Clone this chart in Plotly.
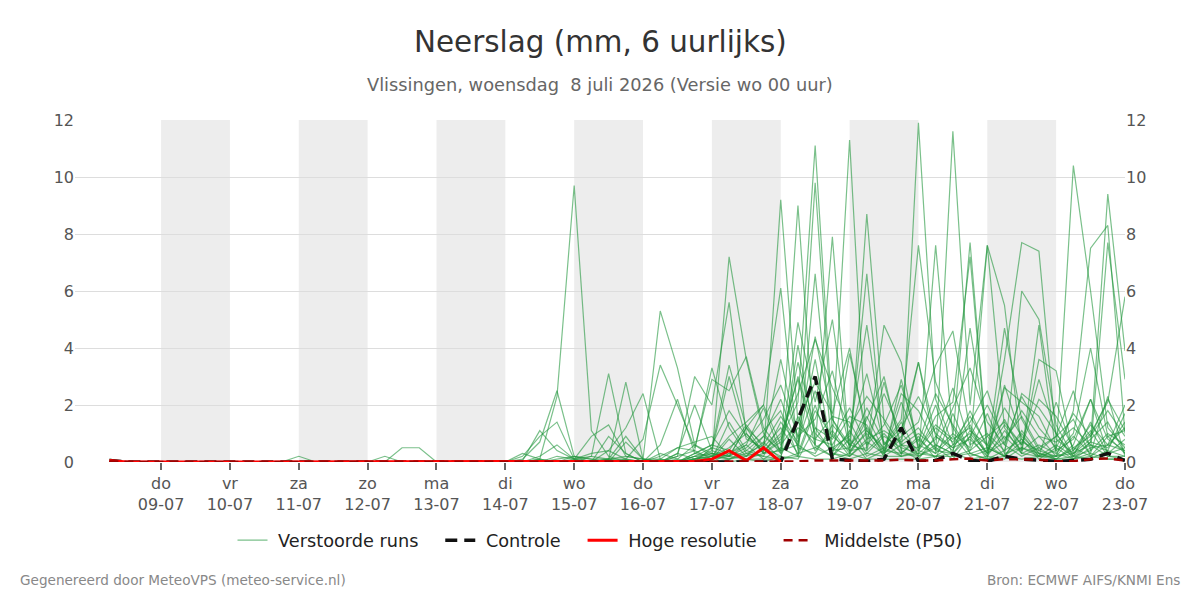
import pandas as pd
import plotly.graph_objects as go

# ---- time axis (6-hourly, from 08-07 06:00 to 23-07 00:00) ----
times = pd.date_range("2026-07-08 06:00", periods=60, freq="6h")

tick_dates = ["2026-07-09", "2026-07-10", "2026-07-11", "2026-07-12", "2026-07-13",
              "2026-07-14", "2026-07-15", "2026-07-16", "2026-07-17", "2026-07-18",
              "2026-07-19", "2026-07-20", "2026-07-21", "2026-07-22", "2026-07-23"]
tick_days = ["do", "vr", "za", "zo", "ma", "di", "wo", "do", "vr", "za", "zo", "ma", "di", "wo", "do"]
tick_dm = ["09-07", "10-07", "11-07", "12-07", "13-07", "14-07", "15-07", "16-07",
           "17-07", "18-07", "19-07", "20-07", "21-07", "22-07", "23-07"]

shade_starts = ["2026-07-09", "2026-07-11", "2026-07-13", "2026-07-15", "2026-07-17", "2026-07-19", "2026-07-21"]

# ---- ensemble members (mm per 6 h) ----
m01 = [0.1, 0, 0, 0, 0, 0, 0, 0, 0, 0, 0, 0, 0, 0, 0, 0, 0, 0, 0, 0, 0, 0, 0,
       0, 0.3, 0.1, 2.3, 9.7, 1.1, 0.2, 0, 0, 0, 0.3, 0.1, 0.4, 0.2, 1.2, 0.3,
       0.8, 2.1, 11.1, 1.5, 0.6, 1.2, 0.3, 0.8, 3.5, 0.9, 0.4, 1.8, 0.5, 0.2, 1.1, 0.3,
       0.1, 0.6, 2.2, 0.8, 0.4]
m02 = [0, 0, 0, 0, 0, 0, 0, 0, 0, 0, 0, 0.2, 0, 0, 0, 0, 0, 0, 0, 0, 0, 0, 0,
       0, 0.1, 0.7, 2.5, 0.2, 0, 0.1, 2.8, 0.1, 0, 0.2, 3.0, 2.0, 5.6, 1.0, 0.3,
       9.2, 1.4, 0.6, 7.9, 0.3, 1.1, 0.5, 0.2, 11.9, 2.2, 0.6, 1.0, 0.3, 2.7, 0.8, 0.2,
       0.4, 10.4, 6.0, 1.2, 0.5]
m03 = [0, 0, 0, 0, 0, 0, 0, 0, 0, 0, 0, 0, 0, 0, 0, 0, 0.2, 0, 0, 0, 0, 0, 0,
       0, 0.05, 1.1, 0.4, 0.1, 0.2, 3.1, 0.3, 0, 0.6, 2.2, 0.3, 0.2, 7.2, 3.6, 1.0,
       0.3, 9.0, 0.5, 0.9, 11.3, 0.4, 2.8, 0.6, 0.2, 7.6, 0.9, 7.7, 0.4, 1.3, 0.6, 2.9,
       1.0, 0.2, 0.7, 9.4, 3.9]
m04 = [0, 0, 0, 0, 0, 0, 0, 0, 0, 0, 0, 0, 0, 0, 0, 0, 0, 0.5, 0.5, 0, 0, 0, 0,
       0, 0.2, 0.9, 1.4, 0.1, 0, 0.4, 1.2, 2.4, 0.1, 0, 0.2, 0.5, 3.4, 1.2, 2.0,
       6.1, 0.4, 9.8, 1.0, 0.2, 8.7, 1.4, 0.3, 0.8, 0.3, 11.6, 2.0, 7.6, 5.5, 0.4, 0.9,
       0.2, 1.8, 7.5, 8.3, 1.0]
m05 = [0, 0, 0, 0, 0, 0, 0, 0, 0, 0, 0, 0, 0, 0, 0, 0, 0, 0, 0, 0, 0, 0.05, 0,
       0, 0, 0.2, 0.6, 0.1, 0.9, 1.3, 0.2, 0.1, 5.3, 3.3, 0.6, 0.3, 0.2, 0.5, 1.1,
       1.8, 0.2, 6.6, 0.4, 1.0, 4.8, 0.6, 1.5, 7.6, 2.8, 1.2, 0.3, 0.1, 3.6, 7.7, 7.4,
       0.8, 0.3, 1.0, 2.1, 5.8]
m06 = [0, 0, 0, 0, 0, 0, 0, 0, 0, 0, 0, 0, 0, 0, 0, 0, 0, 0, 0, 0, 0, 0, 0,
       0, 0, 0, 0.2, 0.1, 0.3, 0.4, 0.1, 0.8, 3.4, 2.0, 0.5, 2.9, 2.5, 3.7, 1.2,
       0.4, 4.9, 2.1, 5.0, 0.6, 6.6, 0.3, 0.9, 1.4, 3.4, 4.6, 1.1, 0.6, 0.2, 6.0, 5.0,
       1.3, 0.2, 0.4, 7.7, 2.9]
m07 = [0, 0, 0, 0, 0, 0, 0, 0, 0, 0, 0, 0, 0, 0, 0, 0, 0, 0, 0, 0, 0, 0, 0,
       0, 0, 0.1, 0, 0.1, 0, 0.9, 0.3, 0, 0.2, 0.5, 0.4, 3.3, 1.2, 0.3, 0.6,
       3.6, 0.8, 4.4, 1.5, 0.4, 0.5, 4.8, 3.5, 0.4, 1.6, 2.1, 7.2, 0.3, 4.7, 1.5, 0.4,
       0.9, 1.5, 0.2, 0.6, 2.0]
m08 = [0, 0, 0, 0, 0, 0, 0, 0, 0, 0, 0, 0, 0, 0, 0, 0, 0, 0, 0, 0, 0, 0, 0,
       0, 0, 0, 0, 0.2, 0.1, 0, 0.7, 0.1, 0, 0.3, 2.0, 0.4, 3.0, 0.8, 0.5,
       1.2, 0.3, 2.0, 0.2, 3.8, 1.1, 0.4, 1.1, 3.5, 0.4, 1.0, 0.5, 7.6, 1.2, 0.3, 4.8,
       0.3, 1.0, 4.0, 0.9, 1.1]
m09 = [0, 0, 0, 0, 0, 0, 0, 0, 0, 0, 0, 0, 0, 0, 0, 0, 0, 0, 0, 0, 0, 0, 0,
       0, 0, 0, 0, 0, 0.2, 0.1, 0.1, 0, 0.3, 0.1, 0.6, 0.2, 0.5, 1.0, 0.3,
       0.7, 3.0, 1.0, 0.4, 0.5, 1.9, 0.7, 0.2, 0.3, 0.8, 2.6, 0.6, 1.0, 0.4, 2.4, 1.9,
       1.0, 0.1, 0.5, 0.6, 1.2]
m10 = [0, 0, 0, 0, 0, 0, 0, 0, 0, 0, 0, 0, 0, 0, 0, 0, 0, 0, 0, 0, 0, 0, 0,
       0, 0, 0, 0.1, 0.2, 0.1, 0.1, 0.9, 0.1, 0.1, 0.5, 0.7, 0.9, 0.2, 0.6, 1.9,
       0.3, 1.2, 0.8, 0.6, 1.6, 1.3, 0.2, 2.9, 0.5, 1.3, 0.8, 1.2, 0.2, 2.6, 2.1, 1.6,
       0.4, 0.8, 2.2, 0.3, 0.8]
m11 = [0, 0, 0, 0, 0, 0, 0, 0, 0, 0, 0, 0, 0, 0, 0, 0, 0, 0, 0, 0, 0, 0, 0,
       0, 0, 0, 0, 0, 0, 0, 0.1, 0, 0, 0.2, 0.4, 0.1, 1.4, 0.4, 0.2,
       1.4, 0.6, 3.6, 0.3, 0.2, 0.8, 1.1, 0.7, 1.2, 0.4, 0.3, 4.7, 0.9, 0.2, 1.0, 0.2,
       2.1, 0.4, 1.1, 0.2, 0.1]
m12 = [0, 0, 0, 0, 0, 0, 0, 0, 0, 0, 0, 0, 0, 0, 0, 0, 0, 0, 0, 0, 0, 0, 0,
       0, 0, 0.1, 0, 0, 0, 0.1, 0.2, 0.1, 0, 0, 0.3, 0.6, 0.4, 1.3, 0.5,
       0.2, 1.6, 0.4, 1.1, 0.3, 1.5, 3.0, 0.4, 0.1, 0.9, 0.5, 0.8, 0.2, 1.1, 0.4, 3.6,
       3.2, 0.3, 0.8, 1.4, 0.3]
m13 = [0, 0, 0, 0, 0, 0, 0, 0, 0, 0, 0, 0, 0, 0, 0, 0, 0, 0, 0, 0, 0, 0, 0,
       0, 0, 0, 0, 0, 0, 0.1, 0, 0, 0, 0, 0.1, 0.2, 0.1, 0.4, 0.9,
       2.2, 0.5, 0.3, 1.3, 0.6, 0.4, 1.0, 0.3, 0.9, 0.1, 1.7, 0.3, 0.5, 0.2, 0.7, 0.4,
       0.2, 0.9, 0.3, 2.3, 0.2]
m14 = [0, 0, 0, 0, 0, 0, 0, 0, 0, 0, 0, 0, 0, 0, 0, 0, 0, 0, 0, 0, 0, 0, 0,
       0, 0, 0, 0, 0, 0, 0, 0, 0, 0.1, 0, 0.1, 0.1, 0.8, 0.2, 0.4,
       0.9, 2.9, 0.6, 0.2, 1.1, 0.2, 0.5, 1.4, 0.2, 0.6, 0.3, 1.1, 0.3, 0.9, 0.3, 0.6,
       0.3, 0.1, 0.7, 0.5, 1.4]
m15 = [0, 0, 0, 0, 0, 0, 0, 0, 0, 0, 0, 0, 0, 0, 0, 0, 0, 0, 0, 0, 0, 0, 0,
       0, 0, 0, 0, 0, 0, 0, 0, 0, 0, 0.1, 0, 0, 0.3, 0.6, 0.1,
       0.5, 0.2, 1.8, 0.9, 0.4, 1.0, 0.2, 0.6, 0.5, 2.0, 0.2, 0.4, 1.7, 0.3, 0.5, 0.2,
       0.6, 0.2, 1.4, 0.3, 0.5]
m16 = [0, 0, 0, 0, 0, 0, 0, 0, 0, 0, 0, 0, 0, 0, 0, 0, 0, 0, 0, 0, 0, 0, 0,
       0, 0, 0, 0, 0, 0, 0, 0, 0, 0, 0, 0.2, 0.3, 0.1, 0.2, 0.7,
       0.1, 4.1, 0.8, 1.6, 1.4, 0.3, 0.9, 0.5, 0.3, 0.2, 0.6, 1.4, 2.5, 0.6, 0.2, 0.5,
       0.1, 0.5, 0.2, 0.9, 0.3]
m17 = [0, 0, 0, 0, 0, 0, 0, 0, 0, 0, 0, 0, 0, 0, 0, 0, 0, 0, 0, 0, 0, 0, 0,
       0, 0, 0, 0, 0, 0, 0, 0, 0, 0, 0, 0, 0.1, 0.2, 0.1, 0.3,
       0.4, 0.6, 0.2, 0.5, 0.2, 0.7, 0.3, 2.1, 0.6, 0.3, 0.9, 0.2, 0.4, 1.5, 0.3, 0.2,
       0.2, 0.3, 0.6, 0.2, 0.2]
m18 = [0, 0, 0, 0, 0, 0, 0, 0, 0, 0, 0, 0, 0, 0, 0, 0, 0, 0, 0, 0, 0, 0, 0,
       0, 0, 0, 0, 0, 0, 0, 0, 0, 0, 0, 0, 0, 0.1, 0.3, 0.2,
       0.1, 0.3, 0.5, 0.2, 0.8, 0.1, 0.4, 0.3, 0.2, 0.5, 0.1, 0.9, 0.1, 0.4, 0.8, 0.1,
       0.5, 0.1, 0.3, 0.1, 0.1]
m19 = [0, 0, 0, 0, 0, 0, 0, 0, 0, 0, 0, 0, 0, 0, 0, 0, 0, 0, 0, 0, 0, 0, 0,
       0, 0, 0, 0, 0, 0, 0, 0, 0, 0, 0, 0, 0.2, 0.4, 0.1, 0,
       0.2, 0.1, 1.2, 0.3, 0.1, 0.3, 0.2, 0.2, 0.4, 0.2, 0.3, 0.1, 0.2, 0.1, 0.5, 0.3,
       0.1, 0.2, 0.1, 0.4, 0.2]
m20 = [0, 0, 0, 0, 0, 0, 0, 0, 0, 0, 0, 0, 0, 0, 0, 0, 0, 0, 0, 0, 0, 0, 0,
       0, 0, 0, 0, 0, 0, 0, 0, 0, 0, 0, 0, 0, 0, 0.1, 0.1,
       0.1, 0.2, 0.1, 0.1, 0.3, 0.1, 0.1, 0.1, 0.1, 0.2, 0.2, 0.3, 0.1, 0.2, 0.1, 0.2,
       0.1, 0.1, 0.2, 0.1, 0.1]
m21 = [0, 0, 0, 0, 0, 0, 0, 0, 0, 0, 0, 0, 0, 0, 0, 0, 0, 0, 0, 0, 0, 0, 0,
       0, 0, 0, 0, 0, 0, 0, 0, 0, 0, 0, 0.3, 0.6, 1.8, 0.9, 0.4,
       1.0, 2.4, 4.3, 2.6, 1.2, 2.3, 1.5, 0.6, 1.0, 0.5, 1.9, 3.3, 1.4, 0.6, 2.3, 1.2,
       0.5, 1.7, 0.9, 2.2, 1.1]
m22 = [0, 0, 0, 0, 0, 0, 0, 0, 0, 0, 0, 0, 0, 0, 0, 0, 0, 0, 0, 0, 0, 0, 0,
       0, 0, 0, 0, 0, 0, 0, 0, 0, 0, 0, 0.1, 0.2, 0.9, 1.4, 2.0,
       0.6, 1.4, 2.8, 1.7, 4.0, 0.8, 2.4, 1.0, 0.4, 1.2, 0.7, 1.6, 0.6, 1.9, 0.9, 0.3,
       0.2, 0.4, 1.3, 0.6, 0.4]
m23 = [0, 0, 0, 0, 0, 0, 0, 0, 0, 0, 0, 0, 0, 0, 0, 0, 0, 0, 0, 0, 0, 0, 0,
       0, 0, 0, 0, 0, 0, 0, 0, 0, 0, 0, 0, 0.5, 0.3, 0.7, 1.5,
       2.7, 0.9, 1.5, 3.2, 0.5, 1.6, 0.4, 2.4, 1.8, 0.6, 0.3, 0.9, 2.0, 0.8, 1.6, 0.5,
       0.9, 2.5, 0.4, 1.0, 0.6]
m24 = [0, 0, 0, 0, 0, 0, 0, 0, 0, 0, 0, 0, 0, 0, 0, 0, 0, 0, 0, 0, 0, 0, 0,
       0, 0, 0, 0, 0, 0, 0, 0, 0, 0, 0, 0.2, 0.1, 0.4, 0.2, 0.9,
       0.4, 3.5, 1.2, 0.8, 1.9, 0.6, 1.3, 2.7, 0.7, 2.4, 1.3, 0.4, 0.9, 1.4, 0.6, 2.2,
       1.6, 0.5, 0.9, 1.8, 0.9]
m25 = [0, 0, 0, 0, 0, 0, 0, 0, 0, 0, 0, 0, 0, 0, 0, 0, 0, 0, 0, 0, 0, 0, 0,
       0, 0, 0, 0, 0, 0, 0, 0, 0, 0, 0, 0.1, 0.3, 0.2, 1.2, 0.6,
       1.6, 0.7, 2.5, 0.5, 0.9, 3.1, 0.6, 1.2, 2.3, 1.0, 0.5, 1.3, 0.3, 0.7, 1.8, 0.9,
       0.7, 1.2, 0.6, 0.4, 1.7]
members = [m01, m02, m03, m04, m05, m06, m07, m08, m09, m10,
           m11, m12, m13, m14, m15, m16, m17, m18, m19, m20,
           m21, m22, m23, m24, m25]

# ---- control run ----
controle = [0.05, 0, 0, 0, 0, 0, 0, 0, 0, 0, 0, 0, 0, 0, 0, 0, 0, 0, 0, 0, 0, 0, 0,
            0, 0, 0, 0, 0, 0, 0, 0, 0, 0, 0, 0, 0, 0, 0, 0,
            0, 1.5, 3.0, 0.1, 0.05, 0.02, 0.1, 1.2, 0.02, 0.05, 0.3, 0.05, 0.02, 0.2, 0.1, 0.05,
            0.02, 0.05, 0.1, 0.3, 0.05]
# ---- high resolution run (until 18-07 00:00) ----
hoge_res = [0.05, 0, 0, 0, 0, 0, 0, 0, 0, 0, 0, 0, 0, 0, 0, 0, 0, 0, 0, 0, 0, 0, 0,
            0, 0, 0, 0, 0, 0, 0, 0, 0, 0, 0, 0.02, 0.1, 0.4, 0.05, 0.5, 0.0]
# ---- median (P50) ----
mediaan = [0.02, 0, 0, 0, 0, 0, 0, 0, 0, 0, 0, 0, 0, 0, 0, 0, 0, 0, 0, 0, 0, 0, 0,
           0, 0, 0, 0, 0, 0, 0, 0, 0, 0, 0, 0, 0, 0, 0.01, 0.01,
           0.01, 0.02, 0.05, 0.05, 0.05, 0.03, 0.05, 0.08, 0.05, 0.05, 0.1, 0.12, 0.05, 0.1, 0.1, 0.08,
           0.03, 0.03, 0.1, 0.12, 0.05]

lead = "\u00a0"
pad = "\u00a0" * 3

fig = go.Figure()

for i, m in enumerate(members):
    fig.add_trace(go.Scatter(
        x=times, y=m, mode="lines",
        line=dict(color="rgba(34,150,60,0.6)", width=1.2),
        name=lead + "Verstoorde runs" + pad, legendgroup="ens",
        showlegend=(i == 0), hoverinfo="skip"))

fig.add_trace(go.Scatter(x=times, y=controle, mode="lines", name=lead + "Controle" + pad,
                         line=dict(color="#111111", width=3.5, dash="12px,7px")))
fig.add_trace(go.Scatter(x=times[:len(hoge_res)], y=hoge_res, mode="lines", name=lead + "Hoge resolutie" + pad,
                         line=dict(color="#ff0000", width=3)))
fig.add_trace(go.Scatter(x=times, y=mediaan, mode="lines", name=lead + "Middelste (P50)",
                         line=dict(color="#a00000", width=2.5, dash="9px,6px")))
# invisible trace to carry the right-hand axis
fig.add_trace(go.Scatter(x=[times[0]], y=[0], yaxis="y2", mode="lines",
                         showlegend=False, hoverinfo="skip", line=dict(width=0)))

shapes = []
for s in shade_starts:
    e = (pd.Timestamp(s) + pd.Timedelta(days=1)).strftime("%Y-%m-%d")
    shapes.append(dict(type="rect", xref="x", yref="paper", x0=s, x1=e, y0=0, y1=1,
                       fillcolor="#ededed", line=dict(width=0), layer="below"))

ticktext = [f"{d}<br>{dm}" for d, dm in zip(tick_days, tick_dm)]

fig.update_layout(
    width=1200, height=600,
    margin=dict(l=75, r=75, t=120, b=138),
    paper_bgcolor="white", plot_bgcolor="white",
    font=dict(family="DejaVu Sans", color="#555555", size=16),
    shapes=shapes,
    showlegend=True,
    legend=dict(orientation="h", x=0.5, xanchor="center", y=-0.23, yanchor="middle",
                font=dict(size=17.7, color="#222222"), traceorder="normal"),
    xaxis=dict(type="date", range=["2026-07-07 18:00", "2026-07-23 00:00"],
               tickvals=tick_dates, ticktext=ticktext, ticks="outside", ticklen=7,
               tickcolor="#666666", tickwidth=2, showgrid=False, zeroline=False,
               showline=False, tickfont=dict(size=16, color="#555555")),
    yaxis=dict(range=[0, 12], dtick=2, showgrid=True, gridcolor="#dddddd", gridwidth=1,
               zeroline=False, showline=False, tickfont=dict(size=16, color="#555555")),
    yaxis2=dict(range=[0, 12], dtick=2, overlaying="y", side="right", showgrid=False,
                zeroline=False, showline=False, tickfont=dict(size=16, color="#555555")),
    annotations=[
        dict(text="Neerslag (mm, 6 uurlijks)", xref="paper", yref="paper", x=0.5, y=1.228,
             xanchor="center", yanchor="middle", showarrow=False,
             font=dict(size=29.4, color="#333333")),
        dict(text="Vlissingen, woensdag  8 juli 2026 (Versie wo 00 uur)", xref="paper", yref="paper",
             x=0.5, y=1.105, xanchor="center", yanchor="middle", showarrow=False,
             font=dict(size=17.8, color="#666666")),
        dict(text="Gegenereerd door MeteoVPS (meteo-service.nl)", xref="paper", yref="paper",
             x=-0.0545, y=-0.345, xanchor="left", yanchor="middle", showarrow=False,
             font=dict(size=13.6, color="#888888")),
        dict(text="Bron: ECMWF AIFS/KNMI Ens", xref="paper", yref="paper",
             x=1.054, y=-0.345, xanchor="right", yanchor="middle", showarrow=False,
             font=dict(size=13.6, color="#888888")),
    ],
)

fig.write_html("out.html")
